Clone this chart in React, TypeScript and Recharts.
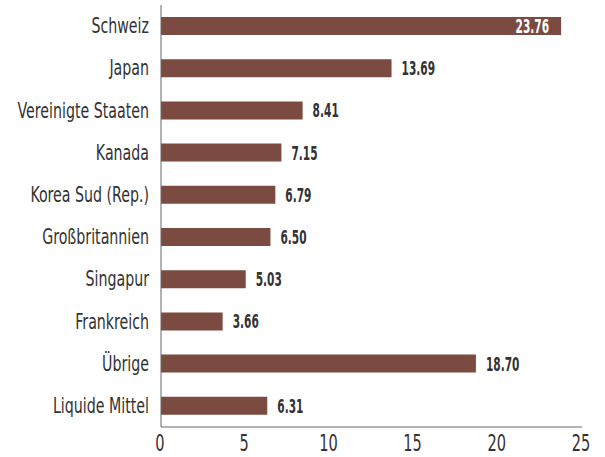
import React from 'react';
import { BarChart, Bar, XAxis, YAxis, LabelList } from 'recharts';

const categories = ['Schweiz', 'Japan', 'Vereinigte Staaten', 'Kanada', 'Korea Sud (Rep.)', 'Großbritannien', 'Singapur', 'Frankreich', 'Übrige', 'Liquide Mittel'];
const values = [23.76, 13.69, 8.41, 7.15, 6.79, 6.5, 5.03, 3.66, 18.7, 6.31];
const xTicks = [0, 5, 10, 15, 20, 25];

const data = categories.map((name, i) => ({ name, value: values[i] }));

const FONT = '"DejaVu Sans Condensed", "DejaVu Sans", sans-serif';
const BAR = '#7b4a40';
const TEXT = '#333333';

const YTick = (props: any) => {
  const { x, y, payload } = props;
  return (
    <text
      transform={`translate(${x - 4},${y + 7}) scale(0.77,1)`}
      textAnchor="end"
      fontFamily={FONT}
      fontStretch="condensed"
      fontSize={20.5}
      fill={TEXT}
    >
      {payload.value}
    </text>
  );
};

const XTick = (props: any) => {
  const { x, payload } = props;
  return (
    <text
      transform={`translate(${x - 1},451) scale(0.72,1)`}
      textAnchor="middle"
      fontFamily={FONT}
      fontStretch="condensed"
      fontSize={22.5}
      fill={TEXT}
    >
      {payload.value}
    </text>
  );
};

const ValueLabel = (props: any) => {
  const { x, y, width, height, value } = props;
  const inside = value > 20;
  const txt = Number(value).toFixed(2);
  const tx = inside ? x + width - 12 : x + width + 10;
  const ty = y + height / 2 + 7;
  return (
    <text
      transform={`translate(${tx},${ty}) scale(0.62,1)`}
      textAnchor={inside ? 'end' : 'start'}
      fontFamily={FONT}
      fontStretch="condensed"
      fontWeight="bold"
      fontSize={19}
      fill={inside ? '#ffffff' : TEXT}
    >
      {txt}
    </text>
  );
};

export default function App() {
  return (
    <div style={{ position: 'absolute', left: 0, top: 0 }}>
      <BarChart
        width={605}
        height={457}
        data={data}
        layout="vertical"
        margin={{ top: 5, right: 23, bottom: 0, left: 0 }}
        barSize={18}
      >
        <XAxis
          type="number"
          domain={[0, 25]}
          ticks={xTicks}
          tickLine={false}
          axisLine={{ stroke: '#666666' }}
          height={30}
          tick={<XTick />}
          interval={0}
        />
        <YAxis
          type="category"
          dataKey="name"
          width={161}
          tickLine={false}
          axisLine={{ stroke: '#666666' }}
          tick={<YTick />}
          interval={0}
        />
        <Bar dataKey="value" fill={BAR} isAnimationActive={false}>
          <LabelList dataKey="value" content={<ValueLabel />} />
        </Bar>
      </BarChart>
    </div>
  );
}
